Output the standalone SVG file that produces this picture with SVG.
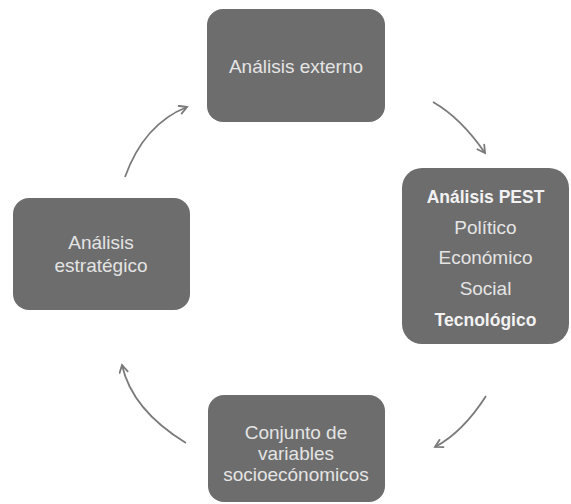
<svg xmlns="http://www.w3.org/2000/svg" width="571" height="504" viewBox="0 0 571 504">
<style>
.box{fill:#6d6d6d;}
.t{font-family:"Liberation Sans",Arial,sans-serif;font-size:19px;fill:#e4e4e4;text-anchor:middle;}
.b{font-weight:bold;font-size:17.5px;fill:#f2f2f2;}
.c{fill:none;stroke:#7a7a7a;stroke-width:1.8;marker-end:url(#ah);}
</style>
<defs>
<marker id="ah" markerWidth="12" markerHeight="12" refX="9" refY="5" orient="auto" markerUnits="userSpaceOnUse">
<path d="M1,0.5 L9,5 L1,9.5" fill="none" stroke="#7a7a7a" stroke-width="1.8"/>
</marker>
</defs>
<rect width="571" height="504" fill="#ffffff"/>
<g id="connectors">
<path class="c" d="M125,177 Q144,124 187,107"/>
<path class="c" d="M433,102 Q461,118 485,153"/>
<path class="c" d="M486,396 Q463,432 435,447"/>
<path class="c" d="M186,443 Q132,410 122,365"/>
</g>
<g id="analisis-externo">
<rect class="box" x="207" y="9" width="178" height="113" rx="16"/>
<text class="t" x="296" y="73">Análisis externo</text>
</g>
<g id="analisis-pest">
<rect class="box" x="402" y="168" width="167" height="176" rx="20"/>
<text class="t b" x="485.5" y="203">Análisis PEST</text>
<text class="t" x="485.5" y="234">Político</text>
<text class="t" x="485.5" y="264">Económico</text>
<text class="t" x="485.5" y="295">Social</text>
<text class="t b" x="485.5" y="326">Tecnológico</text>
</g>
<g id="analisis-estrategico">
<rect class="box" x="13" y="198" width="177" height="112" rx="16"/>
<text class="t" x="101" y="249">Análisis</text>
<text class="t" x="101" y="272">estratégico</text>
</g>
<g id="conjunto-variables">
<rect class="box" x="208" y="395" width="177" height="107" rx="16"/>
<text class="t" x="296" y="439">Conjunto de</text>
<text class="t" x="296" y="460">variables</text>
<text class="t" x="296" y="481">socioecónomicos</text>
</g>
</svg>
